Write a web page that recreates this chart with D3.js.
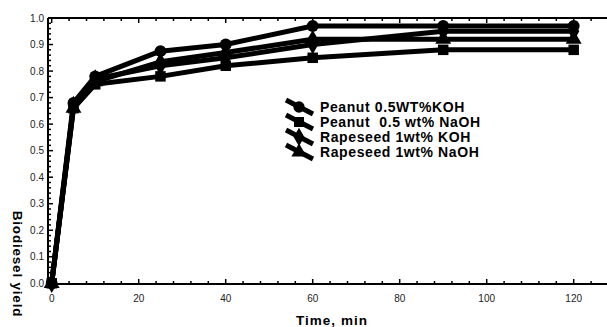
<!DOCTYPE html>
<html>
<head>
<script src="https://d3js.org/d3.v7.min.js"></script>
<style>
  body { margin: 0; background: #fff; }
  text { font-family: "Liberation Sans", Arial, sans-serif; white-space: pre; }
</style>
</head>
<body>
<svg width="607" height="327"></svg>
<script>
    var times = [0, 5, 10, 25, 40, 60, 90, 120];
    var seriesNames = ["Peanut 0.5WT%KOH", "Peanut  0.5 wt% NaOH", "Rapeseed 1wt% KOH", "Rapeseed 1wt% NaOH"];
    var peanutKOH = [0, 0.68, 0.78, 0.875, 0.90, 0.97, 0.97, 0.97];
    var peanutNaOH = [0, 0.66, 0.75, 0.78, 0.82, 0.85, 0.88, 0.88];
    var rapeKOH = [0, 0.67, 0.77, 0.82, 0.85, 0.90, 0.95, 0.95];
    var rapeNaOH = [0, 0.66, 0.76, 0.835, 0.87, 0.92, 0.92, 0.92];
    var xTicks = [0, 20, 40, 60, 80, 100, 120];
    var yTicks = [0, 0.1, 0.2, 0.3, 0.4, 0.5, 0.6, 0.7, 0.8, 0.9, 1.0];

    var svg = d3.select("svg"),
        margin = {top: 18, left: 48, bottom: 284};

    var xScale = d3.scaleLinear().domain([0, 130]).range([51.7, 617.2]),
        yScale = d3.scaleLinear().domain([0, 1]).range([283.3, 18]);

    var series = [
        {name: seriesNames[0], values: peanutKOH, symbol: d3.symbolCircle},
        {name: seriesNames[1], values: peanutNaOH, symbol: d3.symbolSquare},
        {name: seriesNames[2], values: rapeKOH, symbol: d3.symbolDiamond},
        {name: seriesNames[3], values: rapeNaOH, symbol: d3.symbolTriangle}
    ];

    // frame
    svg.append("line").attr("x1", margin.left).attr("x2", 607)
        .attr("y1", margin.top).attr("y2", margin.top)
        .attr("stroke", "#000").attr("stroke-width", 2);
    svg.append("line").attr("x1", margin.left).attr("x2", 607)
        .attr("y1", margin.bottom).attr("y2", margin.bottom)
        .attr("stroke", "#000").attr("stroke-width", 2);
    svg.append("line").attr("x1", margin.left).attr("x2", margin.left)
        .attr("y1", margin.top).attr("y2", margin.bottom)
        .attr("stroke", "#000").attr("stroke-width", 2);

    // minor ticks
    var xMinor = d3.range(0, 132, 4);
    svg.append("g").selectAll("line.xb").data(xMinor).enter().append("line")
        .attr("x1", function(d) { return xScale(d); }).attr("x2", function(d) { return xScale(d); })
        .attr("y1", margin.bottom).attr("y2", function(d) { return margin.bottom - (d % 20 === 0 ? 5 : 3); })
        .attr("stroke", "#000").attr("stroke-width", 1.5);
    svg.append("g").selectAll("line.xt").data(xMinor).enter().append("line")
        .attr("x1", function(d) { return xScale(d); }).attr("x2", function(d) { return xScale(d); })
        .attr("y1", margin.top).attr("y2", function(d) { return margin.top + (d % 20 === 0 ? 5 : 3); })
        .attr("stroke", "#000").attr("stroke-width", 1.5);
    var yMinor = d3.range(0, 1.001, 0.02);
    svg.append("g").selectAll("line").data(yMinor).enter().append("line")
        .attr("x1", margin.left).attr("x2", function(d, i) { return margin.left + (i % 5 === 0 ? 5 : 3); })
        .attr("y1", function(d) { return yScale(d); }).attr("y2", function(d) { return yScale(d); })
        .attr("stroke", "#000").attr("stroke-width", 1.5);

    // tick labels
    svg.append("g").selectAll("text").data(xTicks).enter().append("text")
        .attr("x", function(d) { return xScale(d); }).attr("y", 302)
        .attr("text-anchor", "middle").attr("font-size", 10).attr("fill", "#222")
        .text(function(d) { return d; });
    svg.append("g").selectAll("text").data(yTicks).enter().append("text")
        .attr("x", 44).attr("y", function(d) { return yScale(d) + 3.5; })
        .attr("text-anchor", "end").attr("font-size", 10).attr("fill", "#222")
        .text(function(d) { return d.toFixed(1); });

    // axis titles
    svg.append("text").attr("x", 332).attr("y", 325).attr("text-anchor", "middle")
        .attr("font-size", 13.5).attr("font-weight", "bold").attr("letter-spacing", 1)
        .text("Time, min");
    svg.append("text").attr("transform", "translate(13,264) rotate(90)")
        .attr("text-anchor", "middle").attr("font-size", 13.5).attr("font-weight", "bold")
        .attr("letter-spacing", 0.8)
        .text("Biodiesel yield");

    var line = d3.line()
        .x(function(d, i) { return xScale(times[i]); })
        .y(function(d) { return yScale(d); });

    var g = svg.append("g");
    series.forEach(function(s) {
        g.append("path").datum(s.values).attr("d", line)
            .attr("fill", "none").attr("stroke", "#000").attr("stroke-width", 5)
            .attr("stroke-linejoin", "round");
        g.selectAll(null).data(s.values).enter().append("path")
            .attr("transform", function(d, i) { return "translate(" + xScale(times[i]) + "," + yScale(d) + ")"; })
            .attr("d", d3.symbol().type(s.symbol).size(110))
            .attr("fill", "#000");
    });

    // legend
    var legend = svg.append("g");
    series.forEach(function(s, i) {
        var y = 107 + i * 15;
        legend.append("line").attr("x1", 286).attr("y1", y - 7).attr("x2", 313).attr("y2", y + 7)
            .attr("stroke", "#000").attr("stroke-width", 5);
        legend.append("path").attr("transform", "translate(299," + y + ")")
            .attr("d", d3.symbol().type(s.symbol).size(100)).attr("fill", "#000");
        legend.append("text").attr("x", 320).attr("y", y + 5)
            .attr("font-size", 14).attr("font-weight", "bold").attr("letter-spacing", 0.6)
            .text(s.name);
    });
</script>
</body>
</html>
